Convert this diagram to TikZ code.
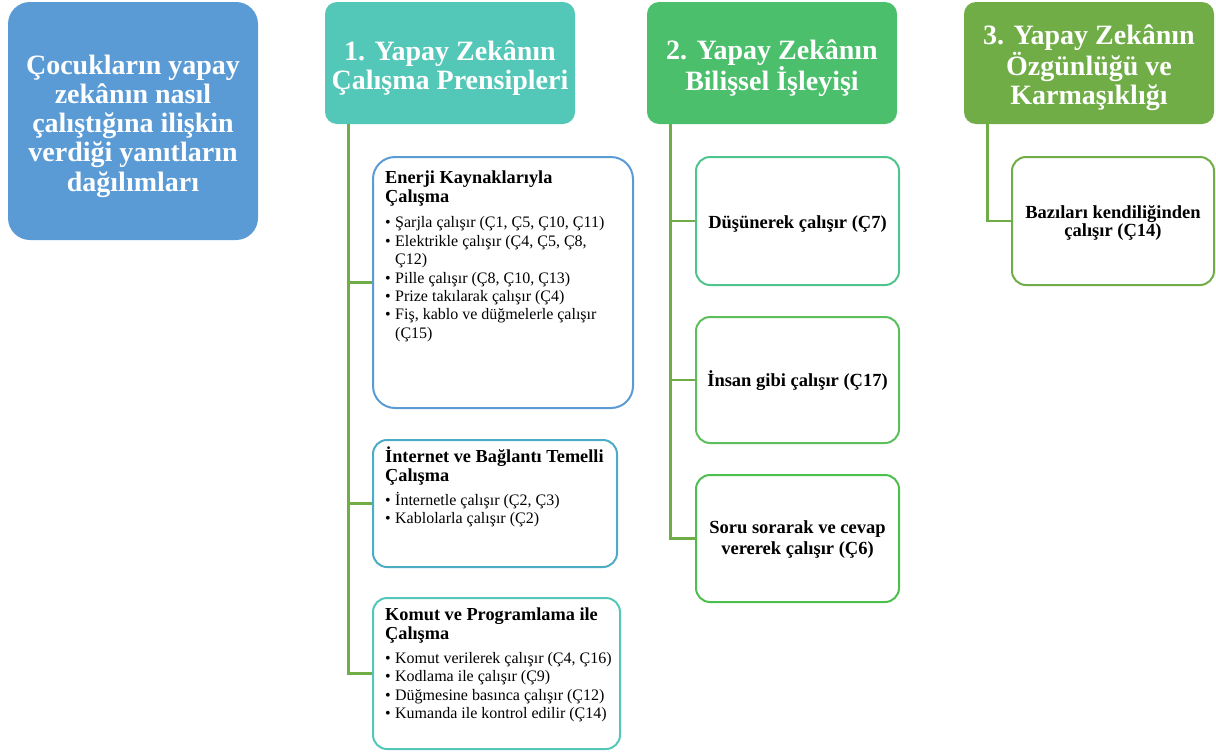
\documentclass[tikz,border=0pt]{standalone}
\usepackage{fontspec}
\setmainfont{Liberation Serif}
\definecolor{mainblue}{HTML}{5B9BD5}
\definecolor{hteal}{HTML}{53C8B8}
\definecolor{hgreen}{HTML}{4BBF6B}
\definecolor{hlime}{HTML}{70AD47}
\definecolor{bcyan}{HTML}{4BACC6}
\definecolor{gA}{HTML}{4FC48C}
\definecolor{gB}{HTML}{5BBF5B}
\definecolor{gC}{HTML}{4CBF4C}
\newcommand{\bul}{\makebox[10pt][l]{•}}
\newcommand{\ind}{\hspace*{10pt}}
\begin{document}
\begin{tikzpicture}[x=1pt,y=-1pt,
  hdr/.style={rounded corners=12pt, draw=none, inner sep=0pt},
  htxt/.style={inner sep=0pt, align=center, text=white, font={\bfseries\fontsize{28}{29.3}\selectfont}},
  sub/.style={rounded corners=14pt, draw, line width=2pt, fill=white, inner sep=0pt},
  ttl/.style={anchor=north west, inner sep=0pt, align=left, font={\bfseries\fontsize{18.3}{19}\selectfont}},
  itm/.style={anchor=north west, inner sep=0pt, align=left, font={\fontsize{16}{18.4}\selectfont}},
  ctext/.style={inner sep=0pt, align=center, font={\bfseries\fontsize{18.5}{20.5}\selectfont}},
  conn/.style={draw=hlime, line width=2.8pt}]
\useasboundingbox (0,0) rectangle (1216,753);

% main box
\node[hdr, rounded corners=22pt, fill=mainblue, minimum width=250pt, minimum height=238pt] (main) at (133,121) {};
\node[htxt] (maint) at ([yshift=-5pt]main.center)
  {Çocukların yapay\\zekânın nasıl\\çalıştığına ilişkin\\verdiği yanıtların\\dağılımları};

% headers
\node[hdr, fill=hteal, minimum width=250pt, minimum height=122pt] (h1) at (450,63) {};
\node[htxt] (h1t) at ([yshift=-5pt]h1.center) {1. Yapay Zekânın\\Çalışma Prensipleri};
\node[hdr, fill=hgreen, minimum width=250pt, minimum height=122pt] (h2) at (772,63) {};
\node[htxt] (h2t) at ([yshift=-5pt]h2.center) {2. Yapay Zekânın\\Bilişsel İşleyişi};
\node[hdr, fill=hlime, minimum width=250pt, minimum height=122pt] (h3) at (1089,63) {};
\node[htxt] (h3t) at ([yshift=-5pt]h3.center) {3. Yapay Zekânın\\Özgünlüğü ve\\Karmaşıklığı};

% column 1 boxes
\node[sub, rounded corners=22pt, draw=mainblue, minimum width=260pt, minimum height=251pt] (A) at (503,282.5) {};
\node[sub, draw=bcyan, minimum width=244pt, minimum height=127pt] (B) at (495,503.5) {};
\node[sub, draw=hteal, minimum width=247pt, minimum height=151pt] (C) at (496.5,673.5) {};

\node[ttl] (Atitle) at (385,170.6) {Enerji Kaynaklarıyla\\Çalışma};
\node[itm] (Aitems) at (385,216.5) {\bul Şarjla çalışır (Ç1, Ç5, Ç10, Ç11)\\
\bul Elektrikle çalışır (Ç4, Ç5, Ç8,\\
\ind Ç12)\\
\bul Pille çalışır (Ç8, Ç10, Ç13)\\
\bul Prize takılarak çalışır (Ç4)\\
\bul Fiş, kablo ve düğmelerle çalışır\\
\ind (Ç15)};

\node[ttl] (Btitle) at (385,446.5) {İnternet ve Bağlantı Temelli\\Çalışma};
\node[itm] (Bitems) at (385,491.7) {\bul İnternetle çalışır (Ç2, Ç3)\\
\bul Kablolarla çalışır (Ç2)};

\node[ttl] (Ctitle) at (385,607.6) {Komut ve Programlama ile\\Çalışma};
\node[itm] (Citems) at (385,652) {\bul Komut verilerek çalışır (Ç4, Ç16)\\
\bul Kodlama ile çalışır (Ç9)\\
\bul Düğmesine basınca çalışır (Ç12)\\
\bul Kumanda ile kontrol edilir (Ç14)};

% column 2 boxes
\node[sub, draw=gA, minimum width=203pt, minimum height=128pt] (D) at (797.5,221) {};
\node[ctext] (Dt) at ([yshift=-3pt]D.center) {Düşünerek çalışır (Ç7)};
\node[sub, draw=gB, minimum width=203pt, minimum height=126pt] (E) at (797.5,380) {};
\node[ctext] (Et) at ([yshift=-1pt]E.center) {İnsan gibi çalışır (Ç17)};
\node[sub, draw=gC, minimum width=203pt, minimum height=127pt] (F) at (797.5,538.5) {};
\node[ctext] (Ft) at ([yshift=-1pt]F.center) {Soru sorarak ve cevap\\vererek çalışır (Ç6)};

% column 3 box
\node[sub, draw=hlime, minimum width=202pt, minimum height=128pt] (G) at (1113,221) {};
\node[ctext, font={\bfseries\fontsize{18.5}{18.5}\selectfont}] (Gt) at ([yshift=-2pt]G.center) {Bazıları kendiliğinden\\çalışır (Ç14)};

% connectors
\coordinate (t1) at ([xshift=24pt]h1.south west);
\coordinate (t2) at ([xshift=24pt]h2.south west);
\coordinate (t3) at ([xshift=24pt]h3.south west);
\draw[conn] (t1) |- (A.west);
\draw[conn] (t1) |- (B.west);
\draw[conn] (t1) |- (C.west);
\draw[conn] (t2) |- (D.west);
\draw[conn] (t2) |- (E.west);
\draw[conn] (t2) |- (F.west);
\draw[conn] (t3) |- (G.west);
\end{tikzpicture}
\end{document}
